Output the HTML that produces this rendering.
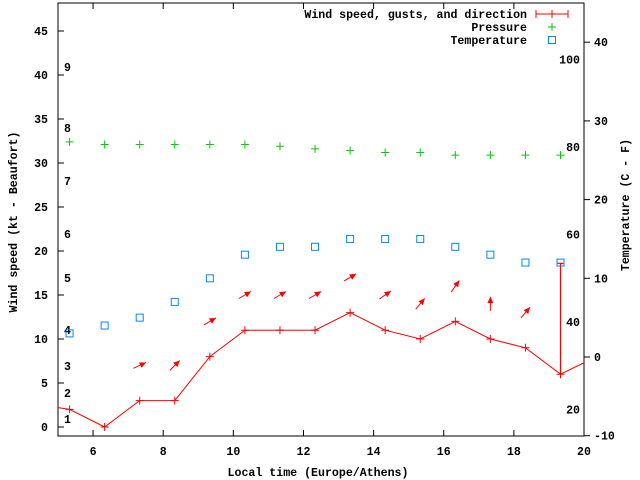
<!DOCTYPE html>
<html><head><meta charset="utf-8">
<style>
body{margin:0;background:#fff;}
svg{display:block;font-family:"Liberation Mono",monospace;font-weight:bold;font-size:11.6px;}
</style></head>
<body>
<svg id="c" width="640" height="480" viewBox="0 0 640 480"></svg>
<script>
const times=[5.33,6.33,7.33,8.33,9.33,10.33,11.33,12.33,13.33,14.33,15.33,16.33,17.33,18.33,19.33];
const wind=[2,0,3,3,8,11,11,11,13,11,10,12,10,9,6];
const windStart=2.2, windEnd=7.3;
const gusts=[null,null,null,null,null,null,null,null,null,null,null,null,null,null,18.6];
const arrowAngle=[null,null,25,45,30,30,30,30,30,35,50,55,90,50,null];
const pressure=[32.4,32.1,32.1,32.1,32.1,32.1,31.9,31.6,31.4,31.2,31.2,30.9,30.9,30.9,30.9];
const tempC=[3,4,5,7,10,13,14,14,15,15,15,14,13,12,12];
const xTicks=[6,8,10,12,14,16,18,20];
const yTicks=[0,5,10,15,20,25,30,35,40,45];
const tTicks=[-10,0,10,20,30,40];
const fTicks=[20,40,60,80,100];
const bft=[[1,419],[2,393],[3,366],[4,330],[5,278],[6,234],[7,181],[8,128],[9,67]];

const L=58,R=584,T=3,B=436;
const X=v=>L+(v-5)*(R-L)/15;
const Y=v=>427-v*8.8;
const YT=c=>357-c*7.87;
const svg=document.getElementById('c');
const NS='http://www.w3.org/2000/svg';
function el(tag,attrs,name,parent){const e=document.createElementNS(NS,tag);for(const k in attrs)e.setAttribute(k,attrs[k]);


(parent||svg).appendChild(e);return e;}
function txt(x,y,s,anchor,name,extra){const e=el('text',Object.assign({x:x,y:y,'text-anchor':anchor||'start'},extra||{}),name);e.textContent=s;return e;}

// frame
el('rect',{x:L,y:T,width:R-L,height:B-T,fill:'none',stroke:'#000','stroke-width':1},'plot-frame');
xTicks.forEach(t=>{const x=X(t);
 el('line',{x1:x,y1:B,x2:x,y2:B-6,stroke:'#000'},'x-tick');
 el('line',{x1:x,y1:T,x2:x,y2:T+6,stroke:'#000'},'x-tick-top');
 txt(x,455,String(t),'middle','x-tick-label');});
yTicks.forEach(v=>{const y=Y(v);
 el('line',{x1:L,y1:y,x2:L+6,y2:y,stroke:'#000'},'y-tick');
 txt(48,y+4,String(v),'end','y-tick-label');});
tTicks.forEach(v=>{const y=YT(v);
 el('line',{x1:R,y1:y,x2:R+6,y2:y,stroke:'#000'},'temp-tick');
 txt(594,y+4,String(v),'start','temp-tick-label');});
fTicks.forEach(f=>{const y=YT((f-32)*5/9);
 txt(580,y+4,String(f),'end','fahrenheit-label');});
bft.forEach(b=>txt(64,b[1]+4,String(b[0]),'start','beaufort-label'));

txt(318,476,'Local time (Europe/Athens)','middle','x-axis-title');
txt(17,222,'Wind speed (kt - Beaufort)','middle','y-axis-title',{transform:'rotate(-90 17 222)'});
txt(629,205,'Temperature (C - F)','middle','temp-axis-title',{transform:'rotate(-90 629 205)'});

// wind line
let pts=[[L,Y(windStart)]].concat(times.map((t,i)=>[X(t),Y(wind[i])])).concat([[R,Y(windEnd)]]);
el('polyline',{points:pts.map(p=>p.join(',')).join(' '),fill:'none',stroke:'#f00','stroke-width':1},'wind-line');
times.forEach((t,i)=>{const x=X(t),y=Y(wind[i]);
 el('path',{d:`M${x-4},${y}h8M${x},${y-4}v8`,stroke:'#f00','stroke-width':1},'wind-point');
 if(gusts[i]!=null){const g=Y(gusts[i]);
  el('path',{d:`M${x},${y}V${g}M${x-3},${g}h6`,stroke:'#f00','stroke-width':1.2},'gust-bar');}
 if(arrowAngle[i]!=null){const a=arrowAngle[i]*Math.PI/180,cy=Y(wind[i]+4),len=14;
  const dx=Math.cos(a)*len/2,dy=-Math.sin(a)*len/2;
  const x1=x-dx,y1=cy-dy,x2=x+dx,y2=cy+dy;
  el('line',{x1:x1,y1:y1,x2:x2,y2:y2,stroke:'#f00','stroke-width':1},'direction-arrow');
  const h=7,w=0.45;
  const ax=x2-Math.cos(a-w)*h,ay=y2+Math.sin(a-w)*h,bx=x2-Math.cos(a+w)*h,by=y2+Math.sin(a+w)*h;
  el('polygon',{points:`${x2},${y2} ${ax},${ay} ${bx},${by}`,fill:'#f00'},'arrow-head');}
});
pressure.forEach((p,i)=>{const x=X(times[i]),y=Y(p);
 el('path',{d:`M${x-4},${y}h8M${x},${y-4}v8`,stroke:'#0c0','stroke-width':1},'pressure-point');});
tempC.forEach((c,i)=>{const x=X(times[i]),y=YT(c);
 el('rect',{x:x-3.5,y:y-3.5,width:7,height:7,fill:'none',stroke:'#08f','stroke-width':1},'temperature-point');});

// legend
txt(527,18,'Wind speed, gusts, and direction','end','legend-wind-label');
el('path',{d:'M536,14H568M536,10v8M568,10v8M552,10v8',stroke:'#f00','stroke-width':1},'legend-wind-sample');
txt(527,31,'Pressure','end','legend-pressure-label');
el('path',{d:'M548,27h8M552,23v8',stroke:'#0c0','stroke-width':1},'legend-pressure-sample');
txt(527,44,'Temperature','end','legend-temperature-label');
el('rect',{x:548.5,y:36.5,width:7,height:7,fill:'none',stroke:'#08f'},'legend-temperature-sample');
</script>
</body></html>
